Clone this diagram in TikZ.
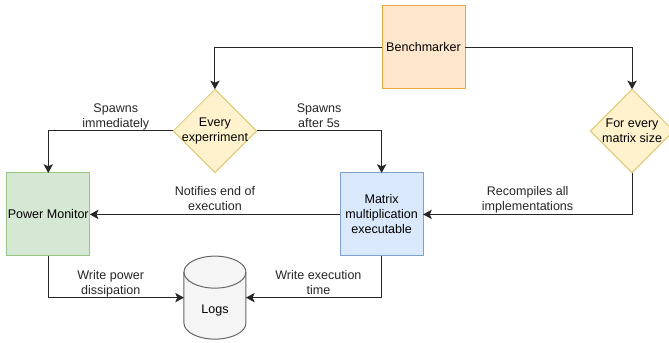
\documentclass[tikz,border=0pt]{standalone}
\usepackage{fontspec}
\setmainfont{Liberation Sans}
\usepackage{xcolor}
\usetikzlibrary{positioning, arrows.meta, shapes.geometric}

\definecolor{orangefill}{HTML}{FFE6CC}
\definecolor{orangeline}{HTML}{E5AE3C}
\definecolor{greenfill}{HTML}{D5E8D4}
\definecolor{greenline}{HTML}{9BC585}
\definecolor{bluefill}{HTML}{DAE8FC}
\definecolor{blueline}{HTML}{7E9FCF}
\definecolor{yellowfill}{HTML}{FFF2CC}
\definecolor{yellowline}{HTML}{E0C878}

\begin{document}
\begin{tikzpicture}[on grid,
    font=\fontsize{9.4}{11.25}\selectfont,
    boxnode/.style = {shape=rectangle, draw, align=center, line width=.75pt,
      minimum size=62.25pt, inner sep=0pt, outer sep=0pt},
    choicenode/.style = {shape=diamond, aspect=1, draw=yellowline, fill=yellowfill,
      line width=.75pt, minimum size=62.5pt, inner sep=0pt, outer sep=0pt},
    edgelabel/.style = {align=center, inner sep=1.5pt, text depth=.75pt, text=black!85},
    drum/.style = {draw=black!60, fill=black!4, line width=.75pt},
    flow/.style = {draw=black!85, line width=.75pt, -{Stealth[length=6.5pt, width=7pt, inset=1.5pt]}}]
    \useasboundingbox (-317.6pt,35.6pt) rectangle (184.1pt,-221.6pt);

    \node[boxnode, draw=orangeline, fill=orangefill] (bench) at (0,0) {Benchmarker};
    \node[choicenode, below left=62.6pt and 156.4pt of bench, label={[align=center]center:Every\\experriment}] (every) {};
    \node[choicenode, below right=62.6pt and 156.4pt of bench, label={[align=center]center:For every\\matrix size}] (size) {};
    \node[boxnode, draw=greenline, fill=greenfill, below left=62.6pt and 125pt of every] (power) {Power Monitor};
    \node[boxnode, draw=blueline, fill=bluefill, below right=62.6pt and 125pt of every] (matrix) {Matrix\\multiplication\\executable};
    \node[minimum width=46.5pt, minimum height=62.25pt, inner sep=0pt, outer sep=0pt, below=125pt of every] (logs) {};
    % drum body, then the front of its lid
    \draw[drum] ([yshift=-12pt]logs.north west) arc[start angle=180, end angle=0, x radius=23.25pt, y radius=12pt]
      -- ([yshift=12pt]logs.south east) arc[start angle=0, end angle=-180, x radius=23.25pt, y radius=12pt] -- cycle;
    \draw[drum, fill=none] ([yshift=-12pt]logs.north west) arc[start angle=180, end angle=360, x radius=23.25pt, y radius=12pt];
    \node (logstext) at ([yshift=-10pt]logs.center) {Logs};

    \draw[flow] (bench.west) -| (every.north);
    \draw[flow] (bench.east) -| (size.north);
    \draw[flow] (every.west) -| node[edgelabel, above, pos=.23] (spawnnow) {Spawns\\immediately} (power.north);
    \draw[flow] (every.east) -| node[edgelabel, above, pos=.25] (spawnlate) {Spawns\\after 5s} (matrix.north);
    \draw[flow] (matrix.west) -- node[edgelabel, above] (notify) {Notifies end of\\execution} (power.east);
    \draw[flow] (size.south) |- node[edgelabel, above, pos=.75] (recompile) {Recompiles all\\implementations} (matrix.east);
    \draw[flow] (power.south) |- node[edgelabel, above, pos=.73] (writepower) {Write power\\dissipation} (logs.west);
    \draw[flow] (matrix.south) |- node[edgelabel, above, pos=.733] (writetime) {Write execution\\time} (logs.east);
\end{tikzpicture}
\end{document}
